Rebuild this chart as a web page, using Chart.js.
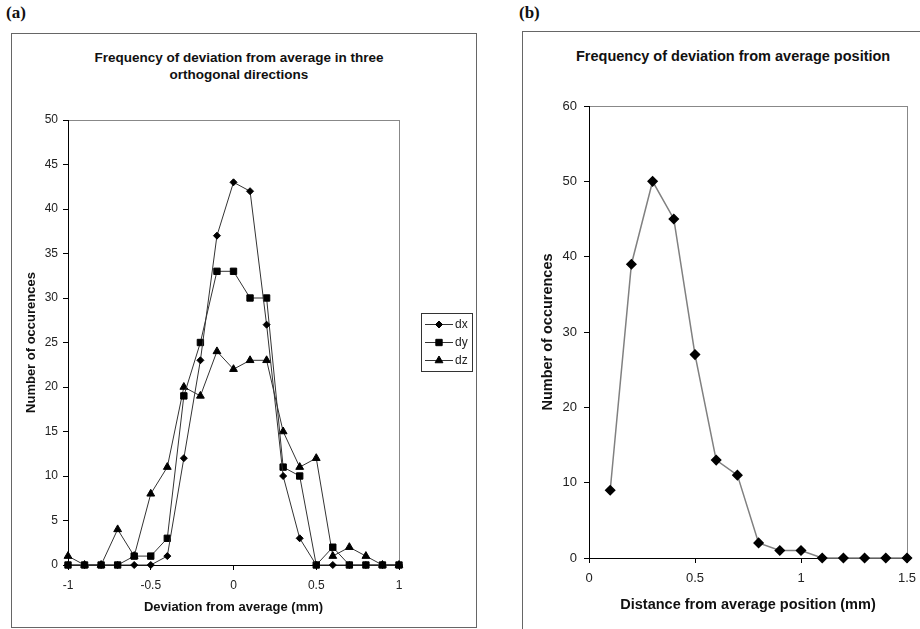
<!DOCTYPE html>
<html>
<head>
<meta charset="utf-8">
<script src="https://cdn.jsdelivr.net/npm/chart.js@4/dist/chart.umd.min.js"></script>
<style>
  body { margin: 0; background: #fff; width: 920px; height: 629px; overflow: hidden; position: relative; font-family: 'Liberation Sans', Arial, sans-serif; }
  .panel { position: absolute; font-family: 'Liberation Serif', 'Times New Roman', serif; font-weight: bold; font-size: 17px; color: #111; }
  .box { position: absolute; border: 1px solid #666; box-sizing: border-box; }
  .title { position: absolute; font-weight: bold; color: #111; text-align: center; line-height: 17px; white-space: nowrap; }
  canvas { position: absolute; }
</style>
</head>
<body>
<div class="panel" style="left:6px; top:3px;">(a)</div>
<div class="panel" style="left:519px; top:3px;">(b)</div>
<div class="box" style="left:11px; top:33px; width:466px; height:595px;"></div>
<div class="box" style="left:522px; top:31px; width:420px; height:620px;"></div>
<div class="title" style="left:89px; width:300px; top:49px; font-size:13.5px;">Frequency of deviation from average in three<br>orthogonal directions</div>
<div class="title" style="left:576px; width:300px; top:48px; font-size:14.5px;">Frequency of deviation from average position</div>
<canvas id="chartA" width="463" height="592" style="left:12px; top:34px;"></canvas>
<canvas id="chartB" width="410" height="597" style="left:523px; top:32px;"></canvas>
<script>
// (a) deviation per direction, x = -1 .. 1 step 0.1
const devX = [-1, -0.9, -0.8, -0.7, -0.6, -0.5, -0.4, -0.3, -0.2, -0.1, 0, 0.1, 0.2, 0.3, 0.4, 0.5, 0.6, 0.7, 0.8, 0.9, 1];
const dx = [0, 0, 0, 0, 0, 0, 1, 12, 23, 37, 43, 42, 27, 10, 3, 0, 0, 0, 0, 0, 0];
const dy = [0, 0, 0, 0, 1, 1, 3, 19, 25, 33, 33, 30, 30, 11, 10, 0, 2, 0, 0, 0, 0];
const dz = [1, 0, 0, 4, 1, 8, 11, 20, 19, 24, 22, 23, 23, 15, 11, 12, 1, 2, 1, 0, 0];

// (b) distance from average position
const distX = [0.1, 0.2, 0.3, 0.4, 0.5, 0.6, 0.7, 0.8, 0.9, 1.0, 1.1, 1.2, 1.3, 1.4, 1.5];
const distCount = [9, 39, 50, 45, 27, 13, 11, 2, 1, 1, 0, 0, 0, 0, 0];

Chart.defaults.font.family = "'Liberation Sans', Arial, sans-serif";
Chart.defaults.font.size = 12;
Chart.defaults.color = '#222';

function pts(xs, ys) {
  return xs.map((x, i) => ({ x: x, y: ys[i] }));
}

// gray frame round the plot area, axes are drawn on top in black
const plotFrame = {
  id: 'plotFrame',
  beforeDraw(chart) {
    const a = chart.chartArea;
    const c = chart.ctx;
    c.save();
    c.strokeStyle = '#888';
    c.lineWidth = 1;
    c.strokeRect(Math.round(a.left) + 0.5, Math.round(a.top) + 0.5, Math.round(a.right - a.left), Math.round(a.bottom - a.top));
    c.restore();
  }
};

// boxed legend like the excel one
const boxLegend = {
  id: 'boxLegend',
  afterDraw(chart, args, opts) {
    const c = chart.ctx;
    c.save();
    c.strokeStyle = '#333';
    c.lineWidth = 1;
    c.strokeRect(opts.x + 0.5, opts.y + 0.5, opts.w, opts.h);
    chart.data.datasets.forEach((ds, i) => {
      const y = opts.y + opts.first + i * opts.gap;
      c.strokeStyle = ds.borderColor;
      c.beginPath();
      c.moveTo(opts.x + 4, y + 0.5);
      c.lineTo(opts.x + 32, y + 0.5);
      c.stroke();
      c.fillStyle = '#000';
      c.strokeStyle = '#000';
      Chart.helpers.drawPoint(c, { pointStyle: ds.pointStyle, radius: ds.pointRadius, borderWidth: 1 }, opts.x + 18, y + 0.5);
      c.fillStyle = '#222';
      c.font = "12px 'Liberation Sans', Arial, sans-serif";
      c.textBaseline = 'middle';
      c.fillText(ds.label, opts.x + 34, y + 0.5);
    });
    c.restore();
  }
};

const fmt = v => String(Math.round(v * 10) / 10);

function axisY(max, step, width, tickPad, titlePad, size, tickSize) {
  return {
    type: 'linear', min: 0, max: max,
    ticks: { stepSize: step, padding: tickPad, color: '#222', font: { size: tickSize } },
    grid: { drawOnChartArea: false, tickLength: 5, color: '#000' },
    border: { color: '#000' },
    title: { display: true, text: 'Number of occurences', color: '#111', font: { size: size, weight: 'bold' }, padding: { top: titlePad, bottom: 0 } },
    afterFit: s => { s.width = width; }
  };
}

function axisX(min, max, text, height, tickPad, titlePad, size, tickSize) {
  return {
    type: 'linear', min: min, max: max,
    ticks: { stepSize: 0.5, padding: tickPad, maxRotation: 0, color: '#222', font: { size: tickSize }, callback: fmt },
    grid: { drawOnChartArea: false, tickLength: 5, color: '#000' },
    border: { color: '#000' },
    title: { display: true, text: text, color: '#111', font: { size: size, weight: 'bold' }, padding: { top: 0, bottom: titlePad } },
    afterFit: s => { s.height = height; }
  };
}

new Chart(document.getElementById('chartA'), {
  type: 'scatter',
  data: {
    datasets: [
      { label: 'dx', data: pts(devX, dx), showLine: true, borderColor: '#333', borderWidth: 1, pointStyle: 'rectRot', pointRadius: 3.5, pointBackgroundColor: '#000', pointBorderColor: '#000', clip: false },
      { label: 'dy', data: pts(devX, dy), showLine: true, borderColor: '#333', borderWidth: 1, pointStyle: 'rect', pointRadius: 4.5, pointBackgroundColor: '#000', pointBorderColor: '#000', clip: false },
      { label: 'dz', data: pts(devX, dz), showLine: true, borderColor: '#333', borderWidth: 1, pointStyle: 'triangle', pointRadius: 4.5, pointBackgroundColor: '#000', pointBorderColor: '#000', clip: false }
    ]
  },
  options: {
    responsive: false,
    animation: false,
    layout: { padding: { top: 86, right: 76, bottom: 0, left: 0 } },
    plugins: {
      legend: { display: false },
      tooltip: { enabled: false },
      boxLegend: { x: 409, y: 279, w: 51, h: 58, first: 11, gap: 18 }
    },
    scales: {
      x: axisX(-1, 1, 'Deviation from average (mm)', 61, 8.5, 11, 13, 12),
      y: axisY(50, 5, 56, 5, 12, 13, 12)
    }
  },
  plugins: [plotFrame, boxLegend]
});

new Chart(document.getElementById('chartB'), {
  type: 'scatter',
  data: {
    datasets: [
      { label: 'distance', data: pts(distX, distCount), showLine: true, borderColor: '#808080', borderWidth: 1.5, pointStyle: 'rectRot', pointRadius: 4.5, pointBackgroundColor: '#000', pointBorderColor: '#000', clip: false }
    ]
  },
  options: {
    responsive: false,
    animation: false,
    layout: { padding: { top: 74, right: 26, bottom: 0, left: 0 } },
    plugins: {
      legend: { display: false },
      tooltip: { enabled: false }
    },
    scales: {
      x: axisX(0, 1.5, 'Distance from average position (mm)', 71, 8, 15, 14.5, 13),
      y: axisY(60, 10, 66, 7, 16, 14.5, 13)
    }
  },
  plugins: [plotFrame]
});
</script>
</body>
</html>
